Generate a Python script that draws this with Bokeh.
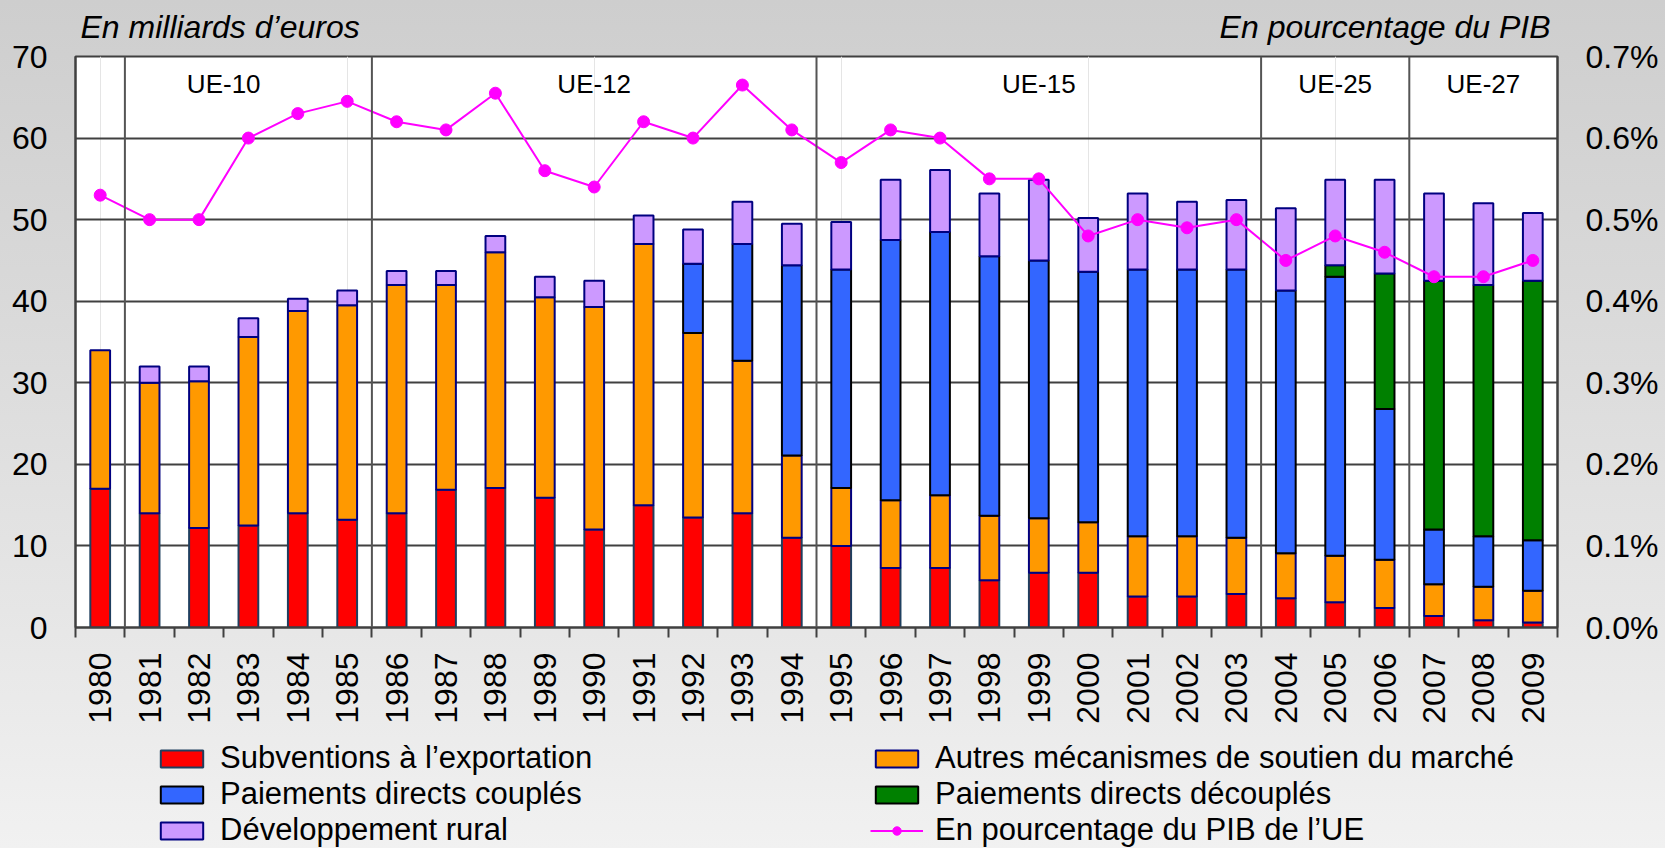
import math
import numpy as np
from bokeh.plotting import figure
from bokeh.layouts import column
from bokeh.models import (Range1d, LinearAxis, FixedTicker, PrintfTickFormatter, Span, Label,
                          Legend, LegendItem, ColumnDataSource, Grid)
from bokeh.embed import file_html
from bokeh.resources import INLINE

# ---------------- data ----------------
years = list(range(1980, 2010))
export_subsidies = [17.0, 14.0, 12.2, 12.5, 14.0, 13.2, 14.0, 16.9, 17.1, 15.9,
                    12.0, 15.0, 13.5, 14.0, 11.0, 10.0, 7.3, 7.3, 5.8, 6.7,
                    6.7, 3.8, 3.8, 4.1, 3.6, 3.1, 2.4, 1.4, 0.9, 0.6]
other_market = [17.0, 16.0, 18.0, 23.1, 24.8, 26.3, 28.0, 25.1, 28.9, 24.6,
                27.3, 32.0, 22.6, 18.7, 10.1, 7.1, 8.3, 8.9, 7.9, 6.7,
                6.2, 7.4, 7.4, 6.9, 5.5, 5.7, 5.9, 3.9, 4.1, 3.9]
coupled_direct = [0, 0, 0, 0, 0, 0, 0, 0, 0, 0,
                  0, 0, 8.5, 14.3, 23.3, 26.8, 31.9, 32.3, 31.8, 31.6,
                  30.7, 32.7, 32.7, 32.9, 32.2, 34.2, 18.5, 6.7, 6.2, 6.2]
decoupled_direct = [0, 0, 0, 0, 0, 0, 0, 0, 0, 0,
                    0, 0, 0, 0, 0, 0, 0, 0, 0, 0,
                    0, 0, 0, 0, 0, 1.4, 16.6, 30.5, 30.8, 31.8]
rural_dev = [0, 2.0, 1.8, 2.3, 1.5, 1.8, 1.7, 1.7, 2.0, 2.5,
             3.2, 3.5, 4.2, 5.2, 5.1, 5.8, 7.4, 7.6, 7.7, 9.9,
             6.6, 9.3, 8.3, 8.5, 10.1, 10.5, 11.5, 10.7, 10.0, 8.3]
pct_gdp = [0.53, 0.50, 0.50, 0.60, 0.63, 0.645, 0.62, 0.61, 0.655, 0.56,
           0.54, 0.62, 0.60, 0.665, 0.61, 0.57, 0.61, 0.60, 0.55, 0.55,
           0.48, 0.50, 0.49, 0.50, 0.45, 0.48, 0.46, 0.43, 0.43, 0.45]
left_ticks = [0, 10, 20, 30, 40, 50, 60, 70]
pct_ticks = [0.0, 0.1, 0.2, 0.3, 0.4, 0.5, 0.6, 0.7]
era_names = ["UE-10", "UE-12", "UE-15", "UE-25", "UE-27"]
era_first_years = [1981, 1986, 1995, 2004, 2007]
series_names = ["Subventions à l’exportation",
                "Autres mécanismes de soutien du marché",
                "Paiements directs couplés",
                "Paiements directs découplés",
                "Développement rural"]
line_name = "En pourcentage du PIB de l’UE"
left_title = "En milliards d’euros"
right_title = "En pourcentage du PIB"

# ---------------- styling / layout ----------------
FONT = "Liberation Sans"
fills = ["#FF0000", "#FF9900", "#3366FF", "#008000", "#CC99FF"]
outlines = ["#1F3F5F", "#000080", "#000000", "#000000", "#000080"]
LINE_COLOR = "#FF00FF"
GRID = "#404040"
W, H = 1665, 848
H1 = 730                      # chart figure height; legend strip below it
ML, MR, MT = 75, 108, 56
FRAME_BOTTOM = 627
MB = H1 - FRAME_BOTTOM

n = len(years)
idx = np.arange(n)
unit_px = (W - ML - MR) / n


def px_to_x(px):
    return round(-0.5 + (px - ML) / unit_px, 4)


p = figure(width=W, height=H1, output_backend="svg", toolbar_location=None,
           x_range=Range1d(-0.5, n - 0.5), y_range=Range1d(0, max(left_ticks)),
           x_axis_location=None, y_axis_location=None,
           min_border_left=ML, min_border_right=MR, min_border_top=MT,
           min_border_bottom=MB)
p.extra_y_ranges = {"pct": Range1d(0, max(pct_ticks))}
p.background_fill_color = "white"
p.border_fill_color = None
p.outline_line_color = GRID
p.outline_line_width = 2

# grid
p.add_layout(Grid(dimension=1, ticker=FixedTicker(ticks=left_ticks),
                  grid_line_color=GRID, grid_line_width=2))

# era separators
for fy in era_first_years:
    p.add_layout(Span(location=years.index(fy) - 0.5, dimension="height",
                      line_color="#555555", line_width=2))

# stacked bars
layers = [export_subsidies, other_market, coupled_direct, decoupled_direct, rural_dev]
bottom = np.zeros(n)
bar_sources = []
for vals, fc, lc in zip(layers, fills, outlines):
    v = np.array(vals, dtype=float)
    top = bottom + v
    m = v > 0
    src = ColumnDataSource(dict(x=idx[m].tolist(), bottom=bottom[m].tolist(), top=top[m].tolist()))
    p.vbar(x="x", bottom="bottom", top="top", width=0.4, source=src,
           fill_color=fc, line_color=lc, line_width=2)
    bar_sources.append(src)
    bottom = top

# percentage line
lsrc = ColumnDataSource(dict(x=idx.tolist(), y=pct_gdp))
p.line("x", "y", source=lsrc, y_range_name="pct", line_color=LINE_COLOR, line_width=2)
p.scatter("x", "y", source=lsrc, y_range_name="pct", size=12,
          fill_color=LINE_COLOR, line_color=LINE_COLOR)

# axes
yl = LinearAxis(ticker=FixedTicker(ticks=left_ticks), major_tick_out=0, major_tick_in=0,
                minor_tick_out=0, minor_tick_in=0, major_label_standoff=28,
                axis_line_color=GRID, axis_line_width=2,
                major_label_text_font=FONT, major_label_text_font_size="32px",
                major_label_text_color="black")
p.add_layout(yl, "left")

yr = LinearAxis(y_range_name="pct", ticker=FixedTicker(ticks=pct_ticks),
                formatter=PrintfTickFormatter(format="%.1f%%"),
                major_tick_out=0, major_tick_in=0, minor_tick_out=0, minor_tick_in=0,
                major_label_standoff=28, axis_line_color=GRID, axis_line_width=2,
                major_label_text_font=FONT, major_label_text_font_size="32px",
                major_label_text_color="black")
p.add_layout(yr, "right")

xb = LinearAxis(ticker=FixedTicker(ticks=[float(i) - 0.5 for i in range(n + 1)]),
                major_tick_out=10, major_tick_in=0, minor_tick_out=0, minor_tick_in=0,
                major_tick_line_color=GRID, major_tick_line_width=2,
                axis_line_color=GRID, axis_line_width=2,
                major_label_text_font_size="0px", major_label_standoff=0,
                major_label_overrides={float(i) - 0.5: "" for i in range(n + 1)})
p.add_layout(xb, "below")

xl = LinearAxis(ticker=FixedTicker(ticks=[float(i) for i in idx]),
                major_label_overrides={int(i): str(y) for i, y in zip(idx, years)},
                major_label_orientation=math.pi / 2,
                major_tick_out=0, major_tick_in=0, minor_tick_out=0, minor_tick_in=0,
                axis_line_color=None, major_label_standoff=15,
                major_label_text_font=FONT, major_label_text_font_size="32px",
                major_label_text_color="black")
p.add_layout(xl, "below")

# the two unit titles above the frame, carried by a label-only top axis
t_left = px_to_x(80 + 0.5 * 8.724 * 32)
t_right = px_to_x(1550 - 0.5 * 10.34 * 32)
xt = LinearAxis(ticker=FixedTicker(ticks=[t_left, t_right]),
                major_label_overrides={t_left: left_title, t_right: right_title},
                major_tick_out=0, major_tick_in=0, minor_tick_out=0, minor_tick_in=0,
                axis_line_color=None, major_label_standoff=12,
                major_label_text_font=FONT, major_label_text_font_style="italic",
                major_label_text_font_size="32px", major_label_text_color="black")
p.add_layout(xt, "above")

# era labels
bounds = [-0.5] + [years.index(fy) - 0.5 for fy in era_first_years[1:]] + [n - 0.5]
for name, a, b in zip(era_names, bounds[:-1], bounds[1:]):
    p.add_layout(Label(x=(a + b) / 2, y=66.6, text=name, text_align="center",
                       text_baseline="middle", text_font=FONT, text_font_size="26px",
                       text_color="black"))

# ---------------- legend strip ----------------
# Hidden proxy renderers (sharing the chart's data) only provide the legend glyphs.
H2 = H - H1
q = figure(width=W, height=H2, output_backend="svg", toolbar_location=None,
           x_range=Range1d(-0.5, n - 0.5), y_range=Range1d(-2, -1),
           x_axis_location=None, y_axis_location=None,
           min_border_left=0, min_border_right=0, min_border_top=0, min_border_bottom=0)
q.background_fill_color = None
q.border_fill_color = None
q.outline_line_color = None
q.xgrid.visible = False
q.ygrid.visible = False

proxies = []
for src, fc, lc in zip(bar_sources, fills, outlines):
    proxies.append(q.vbar(x="x", bottom="bottom", top="top", width=0.4, source=src,
                          fill_color=fc, line_color=lc, line_width=2, visible=False))
pl = q.line("x", "y", source=lsrc, line_color=LINE_COLOR, line_width=2, visible=False)
ps = q.scatter("x", "y", source=lsrc, size=12, fill_color=LINE_COLOR,
               line_color=LINE_COLOR, visible=False)

items = [
    LegendItem(label=series_names[0], renderers=[proxies[0]]),
    LegendItem(label=series_names[1], renderers=[proxies[1]]),
    LegendItem(label=series_names[2], renderers=[proxies[2]]),
    LegendItem(label=series_names[3], renderers=[proxies[3]]),
    LegendItem(label=series_names[4], renderers=[proxies[4]]),
    LegendItem(label=line_name, renderers=[pl, ps]),
]
legend = Legend(items=items, orientation="horizontal", ncols=2, location=(80, 0),
                label_text_font=FONT, label_text_font_size="31px", label_text_color="black",
                glyph_width=53, glyph_height=21, label_standoff=12, label_width=650,
                label_height=20, spacing=0, padding=0, margin=0,
                border_line_color=None, background_fill_alpha=0)
q.add_layout(legend, "center")

page = column(p, q, spacing=0)
page.styles = {"background": "linear-gradient(180deg, #cecece 0%, #d9d9d9 35%, #e6e6e6 72%, #f1f1f1 100%)"}

open("out.html", "w").write(file_html(page, INLINE))
